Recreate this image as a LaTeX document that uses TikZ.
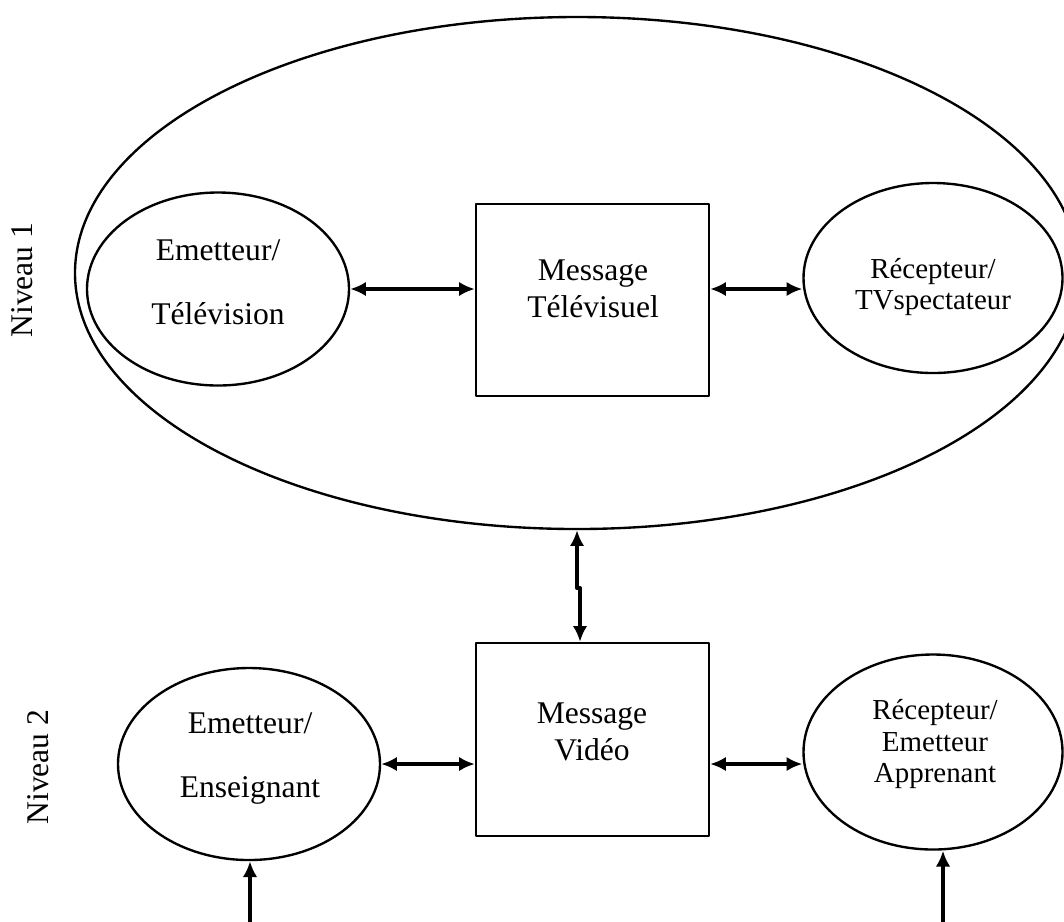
\documentclass[tikz,border=0pt]{standalone}
\usepackage{fontspec}
\setmainfont{Liberation Serif}
\usetikzlibrary{arrows.meta,shapes.geometric}
\tikzset{
  shp/.style={draw,line width=0.9pt},
  oval/.style={shp,ellipse,inner sep=0pt},
  boite/.style={shp,rectangle,inner sep=0pt},
  txt/.style={align=center,font=\fontsize{12}{14}\selectfont},
  txtlarge/.style={align=center,font=\fontsize{12}{24.3}\selectfont},
  txtsmall/.style={align=center,font=\fontsize{11}{11.8}\selectfont},
  dbl/.style={{Latex[length=6pt,width=5.5pt]}-{Latex[length=6pt,width=5.5pt]},line width=1.5pt},
  one/.style={-{Latex[length=6pt,width=5.5pt]},line width=1.5pt}
}
\begin{document}
\begin{tikzpicture}[x=0.38pt,y=-0.38pt,line cap=round,line join=round]
\useasboundingbox (0,0) rectangle (1064,921);
% niveau 1
\node[oval,minimum width=1004*0.38pt,minimum height=512*0.38pt] (big) at (577,273) {};
\node[oval,minimum width=262*0.38pt,minimum height=193*0.38pt] (e1) at (218,289) {};
\node[boite,minimum width=233*0.38pt,minimum height=192*0.38pt] (m1) at (592.5,300) {};
\node[oval,minimum width=259*0.38pt,minimum height=190*0.38pt] (e2) at (933,278) {};
\node[txtlarge] (t1) at (218,282) {Emetteur/\\Télévision};
\node[txt] (t2) at (593,289) {Message\\Télévisuel};
\node[txtsmall] (t3) at (933,287) {Récepteur/\\TVspectateur};
\node[txt,rotate=90] (n1) at (22,280) {Niveau 1};
% niveau 2
\node[boite,minimum width=233*0.38pt,minimum height=193*0.38pt] (m2) at (592.5,739.5) {};
\node[oval,minimum width=262*0.38pt,minimum height=192*0.38pt] (e3) at (249,764) {};
\node[oval,minimum width=259*0.38pt,minimum height=195*0.38pt] (e4) at (933,752) {};
\node[txtlarge] (t4) at (250,758) {Emetteur/\\Enseignant};
\node[txt] (t5) at (592,732) {Message\\Vidéo};
\node[txtsmall] (t6) at (935,744) {Récepteur/\\Emetteur\\Apprenant};
\node[txt,rotate=90] (n2) at (38,767) {Niveau 2};
% connecteurs
\draw[dbl] (e1.east) -- (e1.east -| m1.west);
\draw[dbl] (e1.east -| m1.east) -- (e1.east -| e2.west);
\draw[dbl] (e3.east) -- (e3.east -| m2.west);
\draw[dbl] (e3.east -| m2.east) -- (e3.east -| e4.west);
\coordinate (jog) at (580,588);
\draw[dbl] (big.south) |- (jog) -- (jog |- m2.north);
\coordinate (in3) at (250,930);
\coordinate (in4) at (943,930);
\draw[one] (in3) -- (in3 |- e3.south);
\draw[one] (in4) -- (in4 |- e4.south);
\end{tikzpicture}
\end{document}
